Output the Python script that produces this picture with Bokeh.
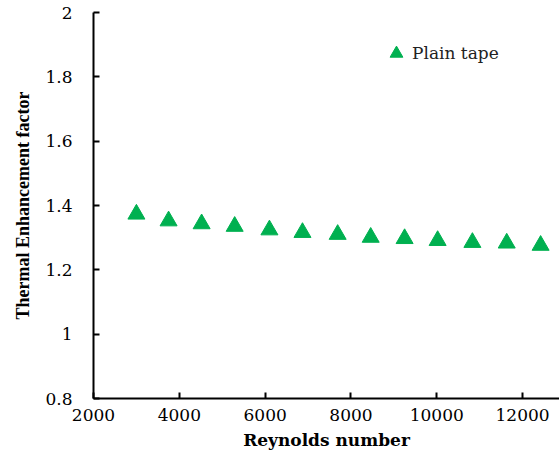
from bokeh.plotting import figure
from bokeh.models import Range1d, FixedTicker, CustomJSTickFormatter, Legend, LegendItem
from bokeh.embed import file_html
from bokeh.resources import INLINE

reynolds = [3000, 3750, 4520, 5290, 6100, 6870, 7690, 8460, 9250, 10020, 10830, 11630, 12420]
enhancement = [1.373, 1.352, 1.343, 1.335, 1.324, 1.316, 1.310, 1.301, 1.297, 1.291, 1.285, 1.283, 1.276]
series_name = "Plain tape"
x_ticks = [2000, 4000, 6000, 8000, 10000, 12000]
y_ticks = [0.8, 1.0, 1.2, 1.4, 1.6, 1.8, 2.0]

GREEN = "#00B050"
SERIF = "DejaVu Serif"
TITLE_FONT = "Liberation Serif"

p = figure(width=559, height=455, output_backend="svg", toolbar_location=None,
           x_range=Range1d(2000, 12860), y_range=Range1d(0.8, 2.0),
           min_border_left=93, min_border_right=0, min_border_top=12, min_border_bottom=57)
p.outline_line_color = None
p.xgrid.visible = False
p.ygrid.visible = False
p.background_fill_color = "white"
p.border_fill_color = "white"

r = p.scatter(reynolds, enhancement, marker="triangle", size=17,
              fill_color=GREEN, line_color=GREEN)

for ax in (p.xaxis[0], p.yaxis[0]):
    ax.axis_line_width = 2
    ax.axis_line_color = "black"
    ax.major_tick_in = 6
    ax.major_tick_out = 0
    ax.major_tick_line_width = 2
    ax.minor_tick_in = 0
    ax.minor_tick_out = 0
    ax.major_label_text_font = SERIF
    ax.major_label_text_font_size = "17px"
    ax.major_label_text_color = "black"
    ax.axis_label_text_font_style = "bold"
    ax.axis_label_text_color = "black"

p.xaxis[0].ticker = FixedTicker(ticks=x_ticks)
p.yaxis[0].ticker = FixedTicker(ticks=y_ticks)
p.xaxis[0].formatter = CustomJSTickFormatter(code="return tick.toFixed(0);")
p.yaxis[0].formatter = CustomJSTickFormatter(code="return tick.toFixed(1).replace(/\\.0$/, '');")

p.xaxis[0].axis_label = "Reynolds number"
p.xaxis[0].axis_label_text_font = SERIF
p.xaxis[0].axis_label_text_font_size = "17px"
p.xaxis[0].major_label_standoff = 10
p.xaxis[0].axis_label_standoff = 6

p.yaxis[0].axis_label = "Thermal Enhancement factor"
p.yaxis[0].axis_label_text_font = TITLE_FONT
p.yaxis[0].axis_label_text_font_size = "18px"
p.yaxis[0].major_label_standoff = 21
p.yaxis[0].axis_label_standoff = 9

legend = Legend(items=[LegendItem(label=series_name, renderers=[r])],
                location=(287, 329), padding=0, margin=0,
                glyph_width=32, glyph_height=32, label_standoff=0,
                border_line_alpha=0, background_fill_alpha=0,
                label_text_font=SERIF, label_text_font_size="17px",
                label_text_color="#222222")
p.add_layout(legend, "center")

open("out.html", "w").write(file_html(p, INLINE))
